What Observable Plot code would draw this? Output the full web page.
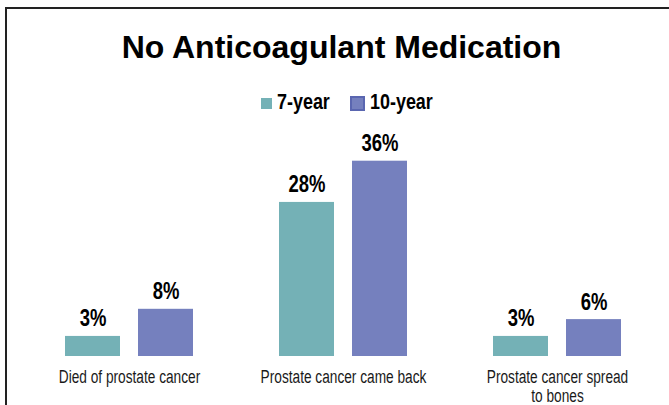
<!DOCTYPE html>
<html>
<head>
<meta charset="utf-8">
<script src="https://cdn.jsdelivr.net/npm/d3@7"></script>
<script src="https://cdn.jsdelivr.net/npm/@observablehq/plot@0.6"></script>
<style>
  html, body { margin: 0; padding: 0; background: #fff; overflow: hidden; }
  #page { position: relative; width: 669px; height: 405px; overflow: hidden; background: #fff; }
  #frame { position: absolute; left: 5px; top: 7px; width: 720px; height: 500px; border: 2px solid #222; box-sizing: border-box; }
  #title { position: absolute; left: 0; width: 683px; top: 31px; text-align: center;
    font-family: "Liberation Sans", Arial, sans-serif; font-weight: bold; font-size: 32px; line-height: 32px; color: #000; }
  #legend { position: absolute; top: 90px; left: 0; width: 669px; height: 24px; font-family: "Liberation Sans", Arial, sans-serif; }
  .sw { position: absolute; box-sizing: border-box; }
  .lt { position: absolute; font-weight: bold; font-size: 22px; line-height: 22px; color: #000; top: 1px;
    transform: scaleX(0.815); transform-origin: 0 0; white-space: nowrap; }
  #chart { position: absolute; left: 0; top: 120px; }
</style>
</head>
<body>
<div id="page">
  <div id="frame"></div>
  <div id="title">No Anticoagulant Medication</div>
  <div id="legend"></div>
  <div id="chart"></div>
</div>
<script>
const categories = ["Died of prostate cancer", "Prostate cancer came back", "Prostate cancer spread to bones"];
const categoryLabels = ["Died of prostate cancer", "Prostate cancer came back", "Prostate cancer spread\nto bones"];
const series = ["7-year", "10-year"];
const values7 = [3.7, 28.4, 3.7];
const values10 = [8.7, 36.0, 6.8];
const labels7 = ["3%", "28%", "3%"];
const labels10 = ["8%", "36%", "6%"];
const colors = ["#74B1B6", "#7580BE"];
const legendBorders = ["#74B1B6", "#5A66B0"];

const data = [];
categories.forEach((c, i) => {
  data.push({cat: c, series: series[0], value: values7[i], label: labels7[i]});
  data.push({cat: c, series: series[1], value: values10[i], label: labels10[i]});
});

// legend
const legend = document.getElementById("legend");
const legendPos = [{sx: 261, sy: 8, size: 11, tx: 277}, {sx: 350, sy: 6, size: 15, tx: 370}];
series.forEach((s, i) => {
  const p = legendPos[i];
  const sw = document.createElement("div");
  sw.className = "sw";
  sw.style.left = p.sx + "px"; sw.style.top = p.sy + "px";
  sw.style.width = p.size + "px"; sw.style.height = p.size + "px";
  sw.style.background = colors[i];
  sw.style.border = (i === 1 ? "2px" : "0px") + " solid " + legendBorders[i];
  legend.appendChild(sw);
  const t = document.createElement("div");
  t.className = "lt";
  t.style.left = p.tx + "px";
  t.textContent = s;
  legend.appendChild(t);
});

const labelOf = new Map(categories.map((c, i) => [c, categoryLabels[i]]));
const fontFam = '"Liberation Sans", Arial, sans-serif';

const chart = Plot.plot({
  width: 669,
  height: 285,
  marginLeft: 64,
  marginRight: 47,
  marginTop: 19,
  marginBottom: 49,
  style: {fontFamily: fontFam, background: "transparent", overflow: "visible"},
  fx: {domain: categories, paddingInner: 0.404, paddingOuter: 0, label: null, axis: null},
  x: {domain: series, paddingInner: 0.247, paddingOuter: 0, axis: null},
  y: {domain: [0, 40], axis: null},
  color: {domain: series, range: colors},
  marks: [
    Plot.barY(data, {fx: "cat", x: "series", y: "value", fill: "series"}),
    Plot.text(data, {fx: "cat", x: "series", y: "value", text: "label", lineAnchor: "bottom", dy: -10,
      fontSize: 24, fontWeight: "bold", fill: "#000", className: "pct"}),
    Plot.axisFx({anchor: "bottom", tickSize: 0, tickPadding: 13, fontSize: 18, lineHeight: 1.07,
      label: null, tickFormat: d => labelOf.get(d), fill: "#1a1a1a", className: "cats"})
  ]
});
document.getElementById("chart").appendChild(chart);

// condense the text (narrow grotesque look) without changing its content
function squeezeText(root, factor) {
  root.querySelectorAll("text").forEach(t => {
    const spans = t.querySelectorAll("tspan");
    const targets = spans.length ? Array.from(spans) : [t];
    targets.forEach(el => {
      const w = el.getComputedTextLength();
      if (w > 0) {
        el.setAttribute("textLength", (w * factor).toFixed(2));
        el.setAttribute("lengthAdjust", "spacingAndGlyphs");
      }
    });
  });
}
chart.querySelectorAll("g.pct").forEach(g => squeezeText(g, 0.77));
chart.querySelectorAll("g.cats").forEach(g => squeezeText(g, 0.76));
</script>
</body>
</html>
